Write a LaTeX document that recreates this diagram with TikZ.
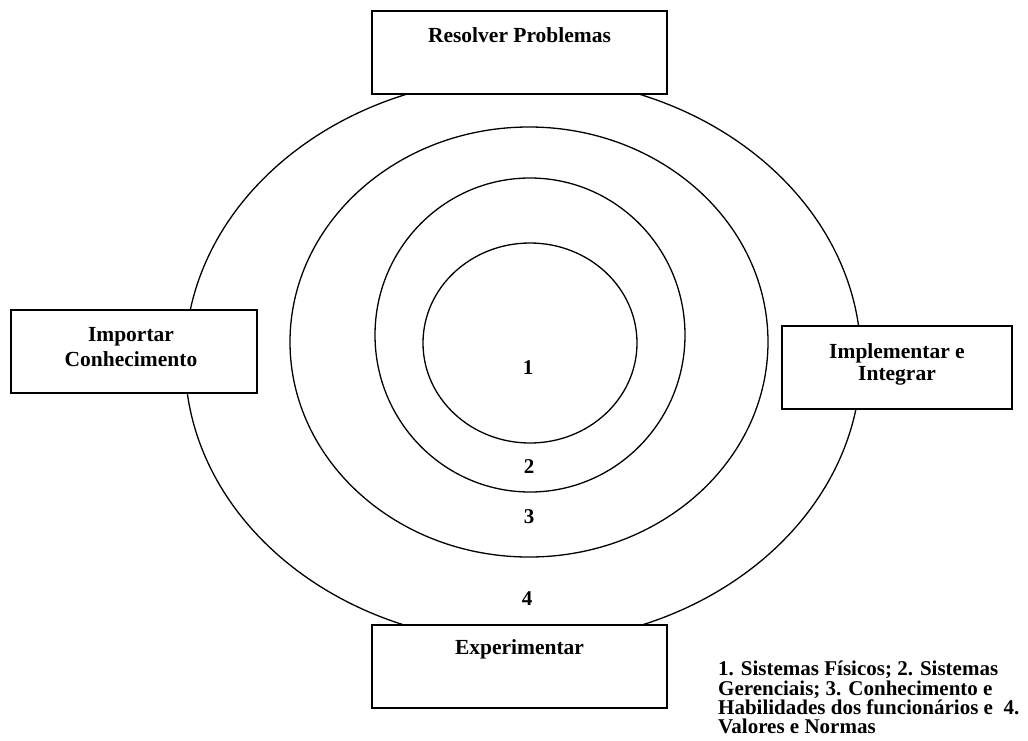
\documentclass[tikz,border=0pt]{standalone}
\usepackage{fontspec}
\setmainfont{Liberation Serif}
\usetikzlibrary{shapes.geometric}
\begin{document}
\begin{tikzpicture}[x=1pt,y=-1pt,
  ring/.style={draw=black,line width=1.3pt,ellipse,inner sep=0pt},
  actionbox/.style={draw=black,fill=white,line width=1.6pt,rectangle,inner sep=0pt},
  lbl/.style={font=\fontsize{21.5}{24}\selectfont\bfseries,align=center,inner sep=0pt},
  num/.style={font=\fontsize{21}{24}\selectfont\bfseries,inner sep=0pt}]
\useasboundingbox (0,0) rectangle (1028,740);

% concentric layers
\node[ring,minimum width=676pt,minimum height=566pt] (ring4) at (523,360) {};
\node[ring,minimum width=478pt,minimum height=430pt] (ring3) at (529,342) {};
\node[ring,minimum width=310pt,minimum height=314pt] (ring2) at (530,335) {};
\node[ring,minimum width=214pt,minimum height=200pt] (ring1) at (530,343) {};

% layer numbers
\node[num] (n1) at (528,368) {1};
\node[num] (n2) at (529,467) {2};
\node[num] (n3) at (529,517) {3};
\node[num] (n4) at (527,599) {4};

% activity boxes
\node[actionbox,minimum width=295pt,minimum height=83pt] (top) at (519.5,52.5) {};
\node[lbl] (topt) at ([yshift=-25pt]top.north) {Resolver Problemas};

\node[actionbox,minimum width=246pt,minimum height=83pt] (left) at (134,351.5) {};
\node[lbl,font=\fontsize{21.5}{25}\selectfont\bfseries] (leftt) at (131,347) {Importar\\Conhecimento};

\node[actionbox,minimum width=230pt,minimum height=83pt] (right) at (897,367.5) {};
\node[lbl,font=\fontsize{21.5}{22}\selectfont\bfseries] (rightt) at (897,364) {Implementar e\\Integrar};

\node[actionbox,minimum width=295pt,minimum height=83pt] (bottom) at (519.5,666.5) {};
\node[lbl] (bottomt) at ([yshift=-25pt]bottom.north) {Experimentar};

% legend
\node[lbl,align=left,anchor=north west,font=\fontsize{21}{19.3}\selectfont\bfseries] (legend) at (718,661)
  {1. Sistemas Físicos; 2. Sistemas\\Gerenciais; 3. Conhecimento e\\Habilidades dos funcionários e~ 4.\\Valores e Normas};
\end{tikzpicture}
\end{document}
